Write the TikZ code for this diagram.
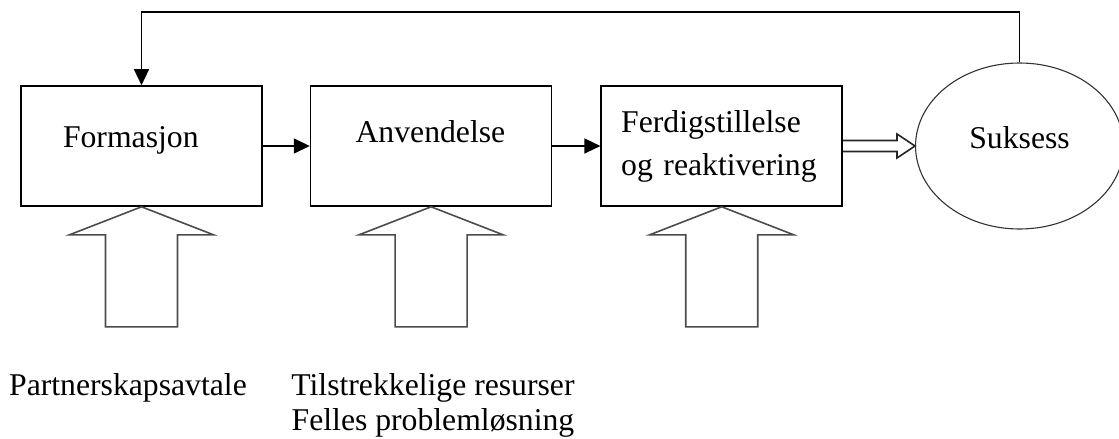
\documentclass[tikz,border=0pt]{standalone}
\usepackage{fontspec}
\setmainfont{Liberation Serif}
\usetikzlibrary{arrows.meta,positioning,shapes.geometric,calc}
\tikzset{
  stage/.style  ={draw, line width=1.6pt, minimum width=241pt,
                  minimum height=120pt, inner ysep=0pt, align=left,
                  font=\fontsize{31.7}{43}\selectfont},
  goal/.style   ={draw, ellipse, line width=1.1pt, draw=black!80,
                  minimum width=208pt, minimum height=166pt, inner sep=0pt,
                  font=\fontsize{31.7}{43}\selectfont},
  flow/.style   ={-{Triangle[length=16pt, width=15pt]}, line width=1.5pt},
  pushup/.style ={draw, line width=1.6pt, black!70, line join=miter},
  note/.style   ={inner sep=0pt, align=center,
                  font=\fontsize{31.7}{35}\selectfont},
}

\begin{document}
\begin{tikzpicture}[x=1pt, y=-1pt]
\useasboundingbox (0,0) rectangle (1119,439);
% the three stages and the goal
\node[stage, inner xsep=42pt, text width=157pt, text height=22pt,
  text depth=20pt] (form) at (141.5,146) {Formasjon};
\node[stage, inner xsep=45pt, text width=151pt, text height=22pt,
  text depth=30pt, right=47pt of form] (anv) {Anvendelse};
\node[stage, inner xsep=20pt, text width=201pt,
  right=48pt of anv] (ferd) {Ferdigstillelse\\og reaktivering};
\node[goal, text height=22pt, text depth=18pt,
  right=72pt of ferd] (succ) {Suksess};
\coordinate (loop) at (0,12);
\draw[flow] (form) -- (anv);
\draw[flow] (anv) -- (ferd);
\draw[flow] (succ.north) -- (succ.north |- loop) -| (form.north);
% hollow double arrow into the goal
\draw[pushup, black!85] ($(ferd.east)+(0,-5.5)$) -- ($(succ.west)+(-18,-5.5)$)
  -- ++(0,-6.5) -- (succ.west) -- ($(succ.west)+(-18,12)$) -- ++(0,-6.5)
  -- ($(ferd.east)+(0,5.5)$);
% block arrows from below
\foreach \b in {form,anv,ferd}
  \draw[pushup] (\b.south) -- ++(72,28) -- ++(-36,0) -- ++(0,92)
    -- ++(-72,0) -- ++(0,-92) -- ++(-36,0) -- cycle;
\node[note, anchor=north] (avtale) at (128,373.4) {Partnerskapsavtale};
\node[note, anchor=north] (ressurs) at (433,373.4)
  {Tilstrekkelige resurser\\Felles problemløsning};
\end{tikzpicture}
\end{document}
